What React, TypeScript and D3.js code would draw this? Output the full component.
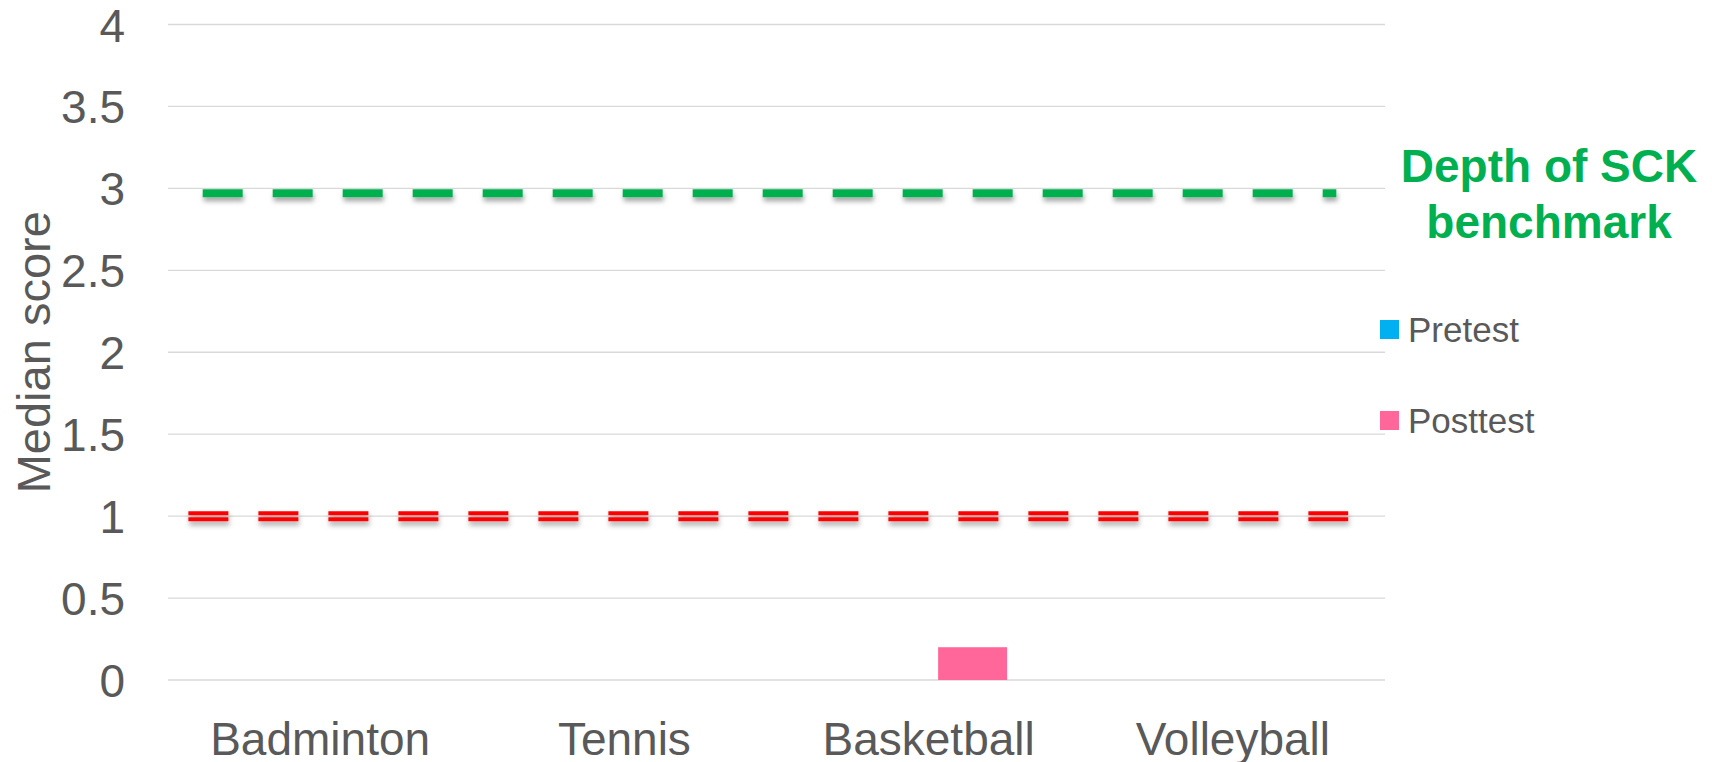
import React from 'react';
import * as d3 from 'd3';

// chart data
const categories = ['Badminton', 'Tennis', 'Basketball', 'Volleyball'];
const seriesNames = ['Pretest', 'Posttest'];
const pretest = [0, 0, 0, 0];
const posttest = [0, 0, 0.2, 0];
const yTicks = [0, 0.5, 1, 1.5, 2, 2.5, 3, 3.5, 4];
// benchmark lines: value, and start/end in category units
const benchmarkValues = [2.97, 1];
const benchmarkStart = [0.114, 0.067];
const benchmarkEnd = [3.84, 3.879];

const colors = { Pretest: '#00B0F0', Posttest: '#FF6699' };
const FONT = '"Liberation Sans", Arial, sans-serif';

const W = 1712;
const H = 762;
const margin = { top: 24.5, right: 327, bottom: 82, left: 168 };

const App = () => {
  const x0 = d3.scaleBand().domain(categories).range([margin.left, W - margin.right]).padding(0);
  const x1 = d3.scaleBand().domain(seriesNames).range([0, x0.bandwidth()])
    .paddingInner(0.216).paddingOuter(0.837);
  const xCat = d3.scaleLinear().domain([0, categories.length]).range([margin.left, W - margin.right]);
  const y = d3.scaleLinear().domain([0, 4]).range([H - margin.bottom, margin.top]);

  const seriesValues = { Pretest: pretest, Posttest: posttest };

  const lineGen = d3.line<[number, number]>().x(d => xCat(d[0])).y(d => y(d[1]));
  const greenPath = lineGen([[benchmarkStart[0], benchmarkValues[0]], [benchmarkEnd[0], benchmarkValues[0]]]);
  const redPath = lineGen([[benchmarkStart[1], benchmarkValues[1]], [benchmarkEnd[1], benchmarkValues[1]]]);

  return (
    <svg width={W} height={H} style={{ position: 'absolute', left: 0, top: 0, background: '#fff' }}>
      <defs>
        <filter id="shadow" filterUnits="userSpaceOnUse" x="0" y="0" width={W} height={H}>
          <feDropShadow dx="1" dy="4" stdDeviation="2.5" floodColor="#000" floodOpacity="0.35" />
        </filter>
      </defs>

      {/* gridlines */}
      {yTicks.map(t => (
        <line key={t} x1={margin.left} x2={W - margin.right} y1={y(t)} y2={y(t)}
          stroke="#d9d9d9" strokeWidth={1.3} />
      ))}

      {/* y tick labels */}
      {yTicks.map(t => (
        <text key={'l' + t} x={125} y={y(t) + 17} textAnchor="end" fontFamily={FONT}
          fontSize={46} fill="#595959">{t}</text>
      ))}

      {/* y axis title */}
      <text transform={`translate(50, ${(y(0) + y(4)) / 2}) rotate(-90)`} textAnchor="middle"
        fontFamily={FONT} fontSize={47} fill="#595959">Median score</text>

      {/* bars */}
      {categories.map((c, i) => (
        <g key={c} transform={`translate(${x0(c)},0)`}>
          {seriesNames.map(s => {
            const v = seriesValues[s][i];
            return (
              <rect key={s} x={x1(s)} y={y(v)} width={x1.bandwidth()} height={y(0) - y(v)}
                fill={colors[s]} />
            );
          })}
        </g>
      ))}

      {/* green benchmark (depth of SCK) */}
      <path d={greenPath} stroke="#00B050" strokeWidth={8} strokeDasharray="40 30" fill="none"
        filter="url(#shadow)" />

      {/* red benchmark: double line */}
      <g filter="url(#shadow)">
        <path d={redPath} transform="translate(0,-3)" stroke="#FF0000" strokeWidth={4}
          strokeDasharray="40 30" fill="none" />
        <path d={redPath} transform="translate(0,3)" stroke="#FF0000" strokeWidth={4}
          strokeDasharray="40 30" fill="none" />
      </g>

      {/* x labels */}
      {categories.map(c => (
        <text key={'x' + c} x={x0(c) + x0.bandwidth() / 2} y={755} textAnchor="middle"
          fontFamily={FONT} fontSize={46} fill="#595959">{c}</text>
      ))}

      {/* benchmark label */}
      <text x={1549} textAnchor="middle" fontFamily={FONT} fontSize={46} fontWeight="bold" fill="#00B050">
        <tspan x={1549} y={181.7}>Depth of SCK</tspan>
        <tspan x={1549} y={238.3}>benchmark</tspan>
      </text>

      {/* legend */}
      {seriesNames.map((s, i) => (
        <g key={'lg' + s} transform={`translate(1380, ${320 + i * 91})`}>
          <rect width={19} height={19} fill={colors[s]} />
          <text x={28} y={22} fontFamily={FONT} fontSize={35} fill="#595959">{s}</text>
        </g>
      ))}
    </svg>
  );
};

export default App;
